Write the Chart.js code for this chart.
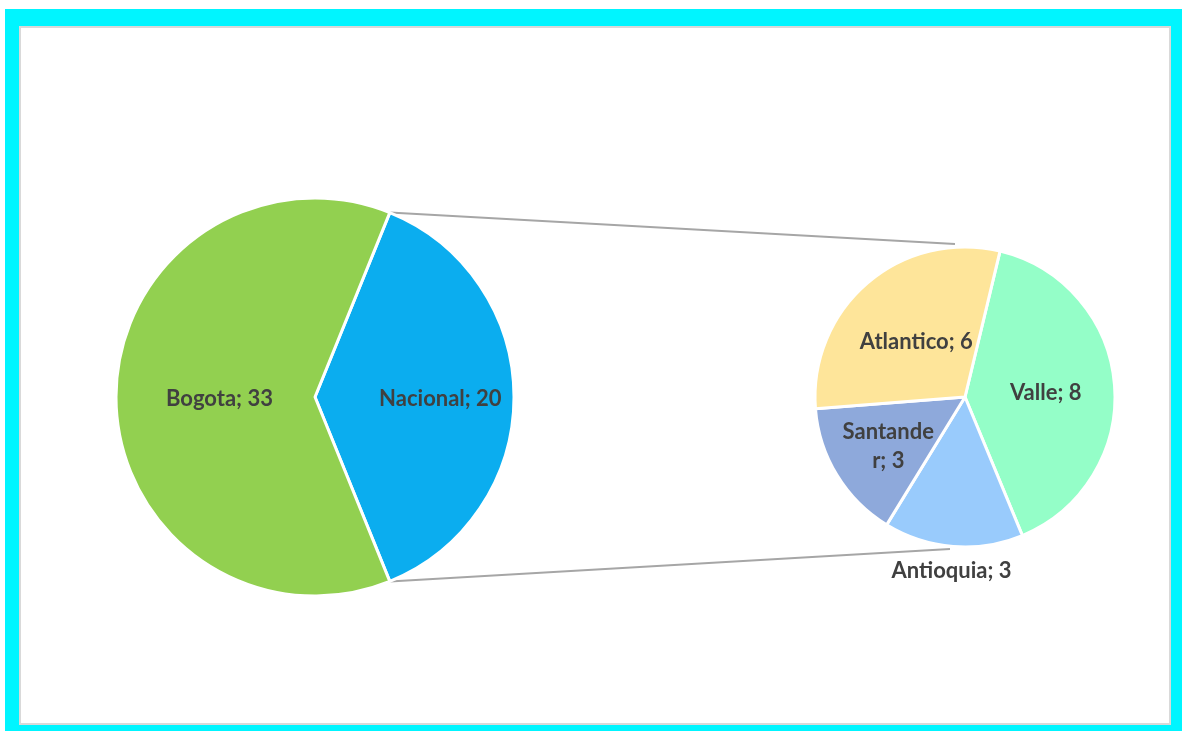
<!DOCTYPE html>
<html>
<head>
<meta charset="utf-8">
<script src="https://cdn.jsdelivr.net/npm/chart.js@4.4.1/dist/chart.umd.min.js"></script>
<style>
  html, body { margin: 0; padding: 0; background: #ffffff; }
  body { width: 1182px; height: 731px; position: relative; overflow: hidden; }
  #frame { position: absolute; left: 5px; top: 9px; width: 1177px; height: 722px; background: #00f5ff; }
  #panel { position: absolute; left: 19px; top: 26px; width: 1152px; height: 699px;
           box-sizing: border-box; background: #ffffff; border: 2px solid #d9d9d9; }
  canvas { position: absolute; }
  #links { left: 0; top: 0; }
  #main-pie { left: 115px; top: 197px; }
  #sub-pie { left: 765px; top: 197px; }
</style>
</head>
<body>
<div id="frame"></div>
<div id="panel"></div>
<canvas id="links" width="1182" height="731"></canvas>
<canvas id="main-pie" width="400" height="400"></canvas>
<canvas id="sub-pie" width="400" height="400"></canvas>
<script>
// Main pie: Nacional is split out into the secondary pie
const mainLabels = ['Nacional', 'Bogota'];
const mainValues = [20, 33];
const mainColors = ['#0badef', '#92d050'];
const mainLabelDist = [0.63, 0.48];

// Secondary pie (breakdown of Nacional)
const subLabels = ['Valle', 'Antioquia', 'Santander', 'Atlantico'];
const subValues = [8, 3, 3, 6];
const subColors = ['#94fec8', '#99cbfc', '#8ea9db', '#fee59a'];
const subLabelDist = [0.54, 1.15, 0.6, 0.5];
const subLabelLines = [null, null, ['Santande', 'r; 3'], null];

const LABEL_FONT = 'bold 22px Lato';
const LABEL_COLOR = '#404040';

/**
 * Draws "name; value" labels at a fraction of the radius along each slice's mid-angle
 */
function makeLabelPlugin(labels, values, dists, lines) {
  return {
    id: 'sliceLabels',
    afterDatasetsDraw(chart) {
      const ctx = chart.ctx;
      const arcs = chart.getDatasetMeta(0).data;
      ctx.save();
      ctx.font = LABEL_FONT;
      ctx.fillStyle = LABEL_COLOR;
      ctx.textAlign = 'center';
      ctx.textBaseline = 'middle';
      arcs.forEach((arc, i) => {
        const mid = (arc.startAngle + arc.endAngle) / 2;
        const r = arc.outerRadius * dists[i];
        const x = arc.x + Math.cos(mid) * r;
        const y = arc.y + Math.sin(mid) * r;
        const textLines = (lines && lines[i]) || [`${labels[i]}; ${values[i]}`];
        const lh = 29;
        textLines.forEach((t, k) => {
          ctx.fillText(t, x, y + 2 + (k - (textLines.length - 1) / 2) * lh);
        });
      });
      ctx.restore();
    }
  };
}

function pieOptions(radius, rotation) {
  return {
    responsive: false,
    animation: false,
    radius: radius,
    rotation: rotation,
    layout: { padding: 0 },
    plugins: { legend: { display: false }, tooltip: { enabled: false } },
    events: []
  };
}

const mainShare = mainValues[0] / mainValues.reduce((a, b) => a + b, 0);

const mainChart = new Chart(document.getElementById('main-pie'), {
  type: 'pie',
  data: {
    labels: mainLabels,
    datasets: [{
      data: mainValues,
      backgroundColor: mainColors,
      borderColor: '#ffffff',
      borderWidth: 3
    }]
  },
  options: pieOptions(199, 90 - mainShare * 180),
  plugins: [makeLabelPlugin(mainLabels, mainValues, mainLabelDist, null)]
});

const subChart = new Chart(document.getElementById('sub-pie'), {
  type: 'pie',
  data: {
    labels: subLabels,
    datasets: [{
      data: subValues,
      backgroundColor: subColors,
      borderColor: '#ffffff',
      borderWidth: 3
    }]
  },
  options: pieOptions(150, 13.5),
  plugins: [makeLabelPlugin(subLabels, subValues, subLabelDist, subLabelLines)]
});

// Connector lines from the split slice edges to the secondary pie
function drawLinks() {
  const ctx = document.getElementById('links').getContext('2d');
  const mainArc = mainChart.getDatasetMeta(0).data[0];
  const subArc = subChart.getDatasetMeta(0).data[0];
  const mainCanvas = mainChart.canvas, subCanvas = subChart.canvas;
  const mx = mainCanvas.offsetLeft + mainArc.x, my = mainCanvas.offsetTop + mainArc.y;
  const sx = subCanvas.offsetLeft + subArc.x, sy = subCanvas.offsetTop + subArc.y;
  const r0 = mainArc.outerRadius, r1 = subArc.outerRadius;
  ctx.strokeStyle = '#a6a6a6';
  ctx.lineWidth = 2;
  ctx.beginPath();
  ctx.moveTo(mx + Math.cos(mainArc.startAngle) * r0, my + Math.sin(mainArc.startAngle) * r0);
  ctx.lineTo(sx - 10, sy - r1 - 3);
  ctx.moveTo(mx + Math.cos(mainArc.endAngle) * r0, my + Math.sin(mainArc.endAngle) * r0);
  ctx.lineTo(sx - 15, sy + r1 + 2);
  ctx.stroke();
}
drawLinks();
</script>
</body>
</html>
